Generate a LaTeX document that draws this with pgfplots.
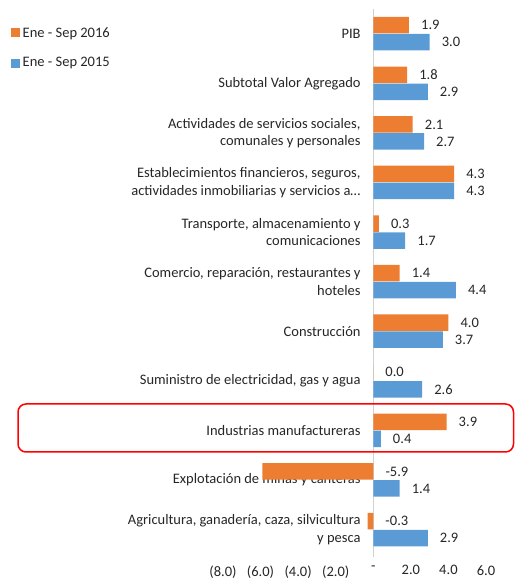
\documentclass[border=0pt]{standalone}
\usepackage{fontspec}
\setmainfont{Carlito}
\usepackage{pgfplots}
\pgfplotsset{compat=1.18}
\definecolor{orng}{HTML}{ED7D31}
\definecolor{blu}{HTML}{5B9BD5}
\definecolor{txt}{HTML}{262626}
\begin{document}
\begin{tikzpicture}[x=1pt,y=1pt]
\useasboundingbox (0,0) rectangle (515,580);
\begin{axis}[
  at={(223pt,20pt)}, anchor=south west,
  scale only axis, width=263pt, height=555pt,
  xmin=-8, xmax=6, ymin=-0.615, ymax=10.58,
  xbar, bar width=16.5pt,
  axis line style={draw=none}, tick style={draw=none},
  font=\fontsize{14.5}{17.5}\selectfont,
  every tick label/.append style={text=txt},
  xtick={-8,-6,-4,-2,0,2,4,6},
  xticklabels={(8.0),(6.0),(4.0),(2.0),-,2.0,4.0,6.0},
  xticklabel style={yshift=-2pt},
  ytick={0,...,10},
  yticklabels={
    {Agricultura, ganadería, caza, silvicultura\\y pesca},
    {Explotación de minas y canteras},
    {Industrias manufactureras},
    {Suministro de electricidad, gas y agua},
    {Construcción},
    {Comercio, reparación, restaurantes y\\hoteles},
    {Transporte, almacenamiento y\\comunicaciones},
    {Establecimientos financieros, seguros,\\actividades inmobiliarias y servicios a…},
    {Actividades de servicios sociales,\\comunales y personales},
    {Subtotal Valor Agregado},
    {PIB}},
  yticklabel style={align=right, inner sep=0pt, xshift=142pt, anchor=east},
  /pgf/number format/.cd, fixed, fixed zerofill, precision=1, assume math mode=true,
  /pgfplots/.cd,
  nodes near coords,
  visualization depends on={x \as \rawx},
  every node near coord/.append style={anchor=west, inner sep=2pt, text=txt,
     font=\fontsize{14.5}{17.5}\selectfont,
     xshift={10 - (\rawx<0)*\rawx*18.79}},
  legend style={at={(-0.806,0.962)}, anchor=north west, draw=none, fill=none,
     font=\fontsize{14.5}{17.5}\selectfont, text=txt, row sep=17pt, inner sep=0pt,
     nodes={inner sep=1pt}},
  legend cell align=left,
  legend image code/.code={\fill[#1] (0pt,-4.5pt) rectangle (9pt,4.5pt);},
]
\draw[black!18, line width=1pt] (axis cs:0,-0.55) -- (axis cs:0,10.5);
\addplot[fill=orng, draw=none, bar shift=8.5pt] coordinates {
  (-0.3,0) (-5.9,1) (3.9,2) (0.0,3) (4.0,4) (1.4,5) (0.3,6) (4.3,7) (2.1,8) (1.8,9) (1.9,10)};
\addlegendentry{\hspace{1.5pt}Ene - Sep 2016}
\addplot[fill=blu, draw=none, bar shift=-8.5pt] coordinates {
  (2.9,0) (1.4,1) (0.4,2) (2.6,3) (3.7,4) (4.4,5) (1.7,6) (4.3,7) (2.7,8) (2.9,9) (3.0,10)};
\addlegendentry{\hspace{1.5pt}Ene - Sep 2015}
\end{axis}
\draw[red, line width=1.5pt, rounded corners=8pt] (18,176) rectangle (513.5,128);
\end{tikzpicture}
\end{document}
